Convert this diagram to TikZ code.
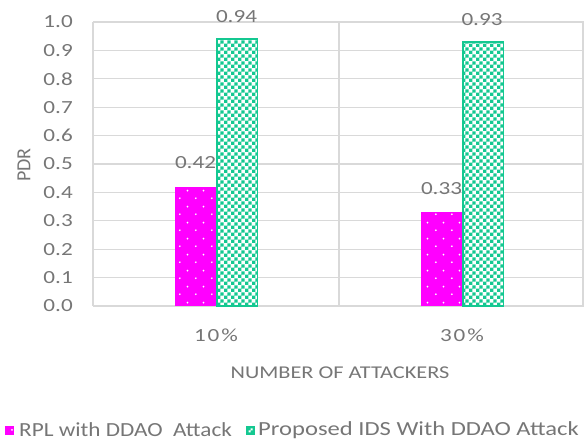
\documentclass[tikz,border=0pt]{standalone}
\usepackage{fontspec}
\setmainfont{Carlito}
\usepackage{tikz}
\usetikzlibrary{patterns.meta}

\definecolor{barpink}{RGB}{255,0,255}
\definecolor{bargreen}{RGB}{20,200,145}
\definecolor{gridgray}{RGB}{217,217,217}
\definecolor{txtgray}{RGB}{118,118,118}

\pgfdeclarepattern{
  name=Checks, type=uncolored,
  bottom left={\pgfpoint{0pt}{0pt}}, top right={\pgfpoint{6.8pt}{6.8pt}},
  tile size={\pgfpoint{6.8pt}{6.8pt}},
  code={
    \pgfpathrectangle{\pgfpoint{0pt}{0pt}}{\pgfpoint{3.4pt}{3.4pt}}
    \pgfpathrectangle{\pgfpoint{3.4pt}{3.4pt}}{\pgfpoint{3.4pt}{3.4pt}}
    \pgfusepath{fill}
  }
}
\pgfdeclarepattern{
  name=Sparse, type=uncolored,
  bottom left={\pgfpoint{0pt}{0pt}}, top right={\pgfpoint{16pt}{16pt}},
  tile size={\pgfpoint{16pt}{16pt}},
  code={
    \pgfpathcircle{\pgfpoint{4pt}{4pt}}{1pt}
    \pgfpathcircle{\pgfpoint{12pt}{12pt}}{1pt}
    \pgfusepath{fill}
  }
}
\tikzset{
  gridline/.style={gridgray, line width=1.3pt},
  smalltxt/.style={txtgray, font=\fontsize{18.5}{18.5}\selectfont, xscale=1.25, inner sep=0pt},
  ticklab/.style={smalltxt, anchor=east},
  legtxt/.style={txtgray, font=\fontsize{20}{20}\selectfont, xscale=#1, anchor=west, inner sep=0pt},
  legtxt/.default=1.23,
  pinkbar/.style={fill=barpink, postaction={pattern=Sparse, pattern color=white}},
  greenbar/.style={draw=bargreen, line width=1.6pt, fill=white, postaction={pattern=Checks, pattern color=bargreen}},
}

\begin{document}
\begin{tikzpicture}[x=1pt, y=1pt]
	\useasboundingbox (0,0) rectangle (584,442);
	% grid and frame
	\foreach \v in {0,...,10}
		\draw[gridline] (93,136+28.4*\v) -- (584,136+28.4*\v);
	\draw[gridline] (93,136) -- (93,420);
	\draw[gridline] (339,136) -- (339,420);
	\draw[gridline] (583,136) -- (583,420);
	\foreach \v/\t in {0/0.0,1/0.1,2/0.2,3/0.3,4/0.4,5/0.5,6/0.6,7/0.7,8/0.8,9/0.9,10/1.0}
		\node[ticklab] (tick\v) at (73,136+28.4*\v) {\t};
	% bars
	\draw[pinkbar, draw=none] (175,136) rectangle (216,136+284*0.42);
	\draw[greenbar] (216.8,136) rectangle (257.5,136+284*0.94);
	\draw[pinkbar, draw=none] (421,136) rectangle (462,136+284*0.33);
	\draw[greenbar] (462.8,136) rectangle (503.5,136+284*0.93);
	% value labels
	\node[smalltxt] (labA) at (195.5,279) {0.42};
	\node[smalltxt] (labB) at (236.5,425.5) {0.94};
	\node[smalltxt] (labC) at (441.5,253.5) {0.33};
	\node[smalltxt] (labD) at (482,422) {0.93};
	% axes texts
	\node[smalltxt] (catA) at (216,107) {1\kern1.5pt0\kern1.5pt\%};
	\node[smalltxt] (catB) at (462,107) {3\kern1.5pt0\kern1.5pt\%};
	\node[txtgray, font=\fontsize{18}{18}\selectfont, xscale=1.24] (xtitle) at (340,69.5) {NUMBER OF ATTACKERS};
	\node[txtgray, font=\fontsize{20}{20}\selectfont, rotate=90] (ytitle) at (24,277) {PDR};
	% legend
	\fill[pinkbar] (5,7) rectangle (14,16);
	\node[legtxt=1.16] (legA) at (19,12) {RPL with DDAO\ \ Attack};
	\fill[bargreen] (246,7) rectangle (255,16);
	\fill[white] (248.5,9.5) rectangle (250.5,11.5) (250.5,11.5) rectangle (252.5,13.5);
	\node[legtxt] (legB) at (258,12) {Proposed IDS With DDAO Attack};
\end{tikzpicture}
\end{document}
